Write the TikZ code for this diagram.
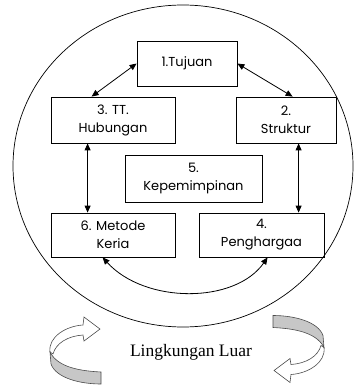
\documentclass[tikz,border=0pt]{standalone}
\usepackage{fontspec}
\newfontfamily\boxfont{Poppins}
\newfontfamily\lserif{Liberation Serif}
\usetikzlibrary{arrows.meta}
\begin{document}
\begin{tikzpicture}[x=1pt,y=-1pt,
  box/.style={draw, line width=0.8pt, inner sep=0pt, align=center,
    font=\boxfont\fontsize{13pt}{18pt}\selectfont},
  dbl/.style={line width=0.8pt, {Triangle[length=7pt,width=6pt]}-{Triangle[length=7pt,width=6pt]}},
  curly/.pic={
    \draw[draw=black!70, line width=0.6pt, fill=white]
      (-25.5,1.5) .. controls (-27.5,-13.5) and (-9.5,-24.5) .. (7.5,-25.5)
      -- (8.5,-33.5) -- (24.5,-21.5) -- (8.5,-9.5) -- (7.5,-15.5)
      .. controls (-7.5,-14.5) and (-19.5,-7.5) .. (-22.5,3.5) -- cycle;
    \draw[draw=black!70, line width=0.6pt, fill=black!22]
      (-25.5,1.5) .. controls (-17.5,17.5) and (6.5,20.5) .. (25.5,21.5)
      -- (25.5,33.5) .. controls (4.5,33.5) and (-19.5,27.5) .. (-24.5,13.5) -- cycle;
  }]
\useasboundingbox (0,0) rectangle (353,387);
\draw[line width=0.7pt] (183,166) ellipse [x radius=170, y radius=161];

\node[box, minimum width=100pt, minimum height=45pt] (b1) at (187,63.5) {1.Tujuan};
\node[box, minimum width=124pt, minimum height=46pt] (b3) at (113,120) {3. TT.\\Hubungan};
\node[box, minimum width=100pt, minimum height=46pt] (b2) at (286,120) {2.\\Struktur};
\node[box, minimum width=137pt, minimum height=47pt] (b5) at (193.5,178.5) {5.\\Kepemimpinan};
\node[box, minimum width=124pt, minimum height=44pt] (b6) at (113,235) {6. Metode\\Keria};
\node[box, minimum width=125pt, minimum height=44pt] (b4) at (261.5,235) {4.\\Penghargaa};

\draw[dbl] ([xshift=41pt]b3.north west) -- (b1.west);
\draw[dbl] (b1.east) -- ([xshift=57pt]b2.north west);
\draw[dbl] ([xshift=37pt]b3.south west) -- ([xshift=37pt]b6.north west);
\draw[dbl] ([xshift=63pt]b2.south west) -- ([xshift=63pt]b2.south west |- b4.north);
\draw[dbl] ([xshift=52pt]b6.south west) .. controls (145,304) and (235,304) .. ([xshift=69pt]b4.south west);

\node[font=\lserif\fontsize{17.5pt}{20pt}\selectfont] (env) at (191,352) {Lingkungan Luar};
\pic at (75.5,350.5) {curly};
\pic[rotate=180] at (298.5,349) {curly};
\end{tikzpicture}
\end{document}
